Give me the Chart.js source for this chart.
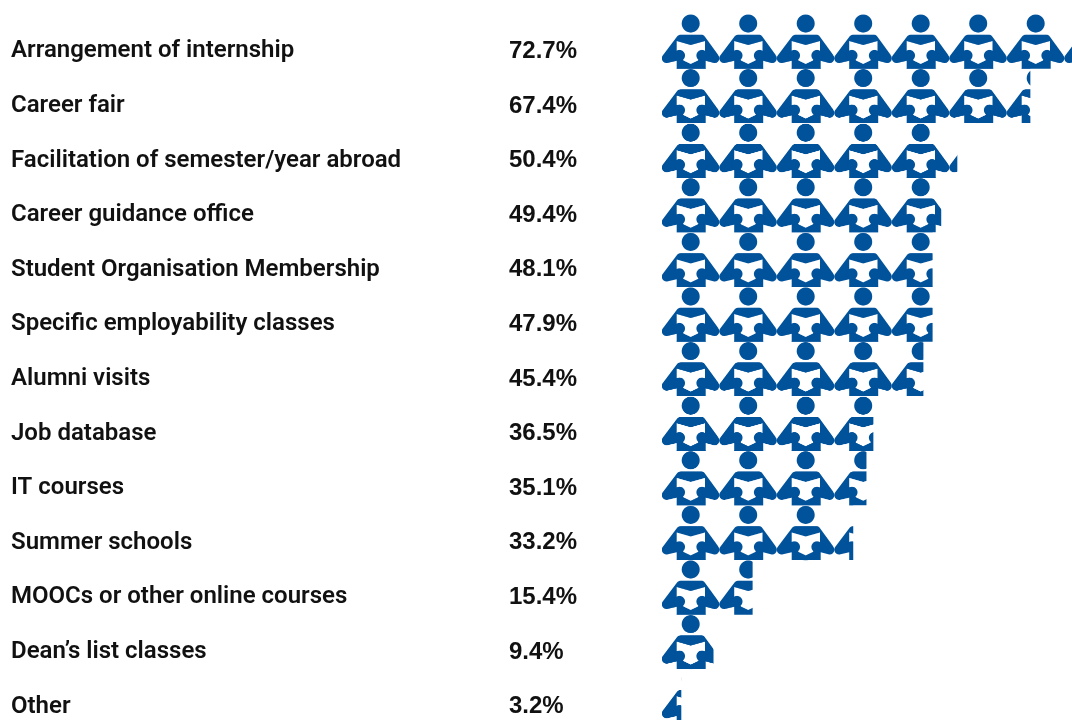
<!DOCTYPE html>
<html>
<head>
<meta charset="utf-8">
<style>
  html, body { margin: 0; background: #fff; overflow: hidden; }
  #wrap { width: 1072px; height: 720px; overflow: hidden; }
</style>
<script src="https://cdn.jsdelivr.net/npm/chart.js@4/dist/chart.umd.min.js"></script>
</head>
<body>
<div id="wrap"><canvas id="chart" width="1072" height="724"></canvas></div>
<script>
const categories = [
  "Arrangement of internship",
  "Career fair",
  "Facilitation of semester/year abroad",
  "Career guidance office",
  "Student Organisation Membership",
  "Specific employability classes",
  "Alumni visits",
  "Job database",
  "IT courses",
  "Summer schools",
  "MOOCs or other online courses",
  "Dean\u2019s list classes",
  "Other"
];
// printed next to each row
const shareLabels = ["72.7%", "67.4%", "50.4%", "49.4%", "48.1%", "47.9%", "45.4%", "36.5%", "35.1%", "33.2%", "15.4%", "9.4%", "3.2%"];
// length of the icon row as measured on the picture (one icon = 10), not always the printed share
const iconLengths = [72.7, 64.0, 51.3, 48.5, 47.0, 47.0, 45.4, 36.7, 35.5, 33.2, 15.7, 8.9, 3.3];

const BLUE = "#00529b";

// One person reading a book, used as a repeating fill for the bars
function makeIconPattern(ctx, left, top, tileW, tileH) {
  const s = 2;
  const tile = document.createElement("canvas");
  tile.width = Math.round(tileW * s);
  tile.height = Math.round(tileH * s);
  const c = tile.getContext("2d");
  c.scale(tile.width / tileW, tile.height / tileH);

  c.fillStyle = BLUE;
  c.beginPath();
  c.arc(28.7, 9.5, 9, 0, Math.PI * 2);
  c.fill();

  c.beginPath();
  c.moveTo(19, 20.7);
  c.lineTo(39.5, 20.7);
  c.quadraticCurveTo(41.5, 20.8, 42.8, 22.5);
  c.lineTo(56.2, 41);
  c.arc(52.6, 44.3, 4.8, -0.75, 1.75);
  c.lineTo(43.7, 46.8);
  c.lineTo(43.7, 54.7);
  c.lineTo(14.7, 54.7);
  c.lineTo(14.7, 46.8);
  c.lineTo(5.5, 49);
  c.arc(4.6, 44.3, 4.8, 1.4, 3.9);
  c.lineTo(15, 22.5);
  c.quadraticCurveTo(16.5, 20.8, 19, 20.7);
  c.closePath();
  c.fill();

  // book pages
  c.fillStyle = "#fff";
  c.beginPath();
  c.moveTo(14.7, 27);
  c.lineTo(28.7, 31);
  c.lineTo(43, 27);
  c.lineTo(43, 37);
  c.lineTo(35.8, 46.6);
  c.lineTo(28.7, 50);
  c.lineTo(21.6, 46.6);
  c.lineTo(14.7, 37);
  c.closePath();
  c.fill();

  // hands over the book
  c.fillStyle = BLUE;
  c.beginPath();
  c.arc(40, 41.5, 5.6, 0, Math.PI * 2);
  c.fill();
  c.beginPath();
  c.arc(17.4, 41.5, 5.6, 0, Math.PI * 2);
  c.fill();

  const pattern = ctx.createPattern(tile, "repeat");
  pattern.setTransform(new DOMMatrix().translate(left, top).scale(tileW / tile.width, tileH / tile.height));
  return pattern;
}

const canvas = document.getElementById("chart");
const ctx = canvas.getContext("2d");

// fixed column width, and no room kept for half a label above and below the rows
const fixColumn = (w) => (scale) => {
  scale.width = w;
  scale.paddingTop = 0;
  scale.paddingBottom = 0;
};

const labelTicks = { crossAlign: "far", padding: 0, labelOffset: 10, autoSkip: false, maxRotation: 0, color: "#111" };

new Chart(canvas, {
  type: "bar",
  data: {
    labels: categories,
    datasets: [{
      data: iconLengths,
      backgroundColor: makeIconPattern(ctx, 662, 14, 57.5, 54.6),
      borderWidth: 0,
      barPercentage: 1,
      categoryPercentage: 1
    }]
  },
  options: {
    indexAxis: "y",
    responsive: false,
    animation: false,
    layout: { padding: { left: 11, top: 14, right: 0, bottom: 0 } },
    plugins: { legend: { display: false }, tooltip: { enabled: false } },
    scales: {
      x: { display: false, min: 0, max: 71.3 },
      y: {
        weight: 2,
        afterFit: fixColumn(498),
        grid: { display: false, drawTicks: false },
        border: { display: false },
        ticks: { ...labelTicks, font: { family: "Roboto", size: 24, weight: "600" } }
      },
      shares: {
        type: "category",
        position: "left",
        labels: shareLabels,
        weight: 1,
        afterFit: fixColumn(153),
        grid: { display: false, drawTicks: false },
        border: { display: false },
        ticks: { ...labelTicks, font: { family: "'Liberation Sans'", size: 24, weight: "bold" } }
      }
    }
  }
});
</script>
</body>
</html>
